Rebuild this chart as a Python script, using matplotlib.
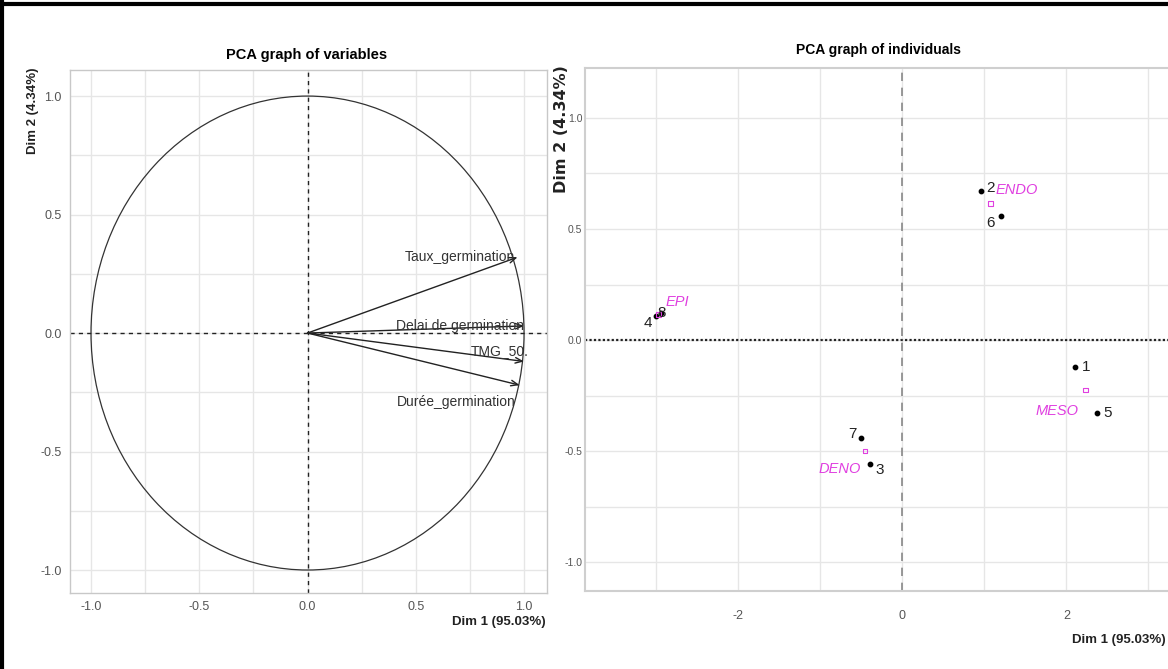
import numpy as np
import matplotlib.pyplot as plt
from matplotlib.patches import Circle
from matplotlib.lines import Line2D

# ---- donnees : graphe des variables ----
var_names = ["Taux_germination", "Delai de germination", "TMG_50.", "Durée_germination"]
var_dim1 = [0.97, 1.00, 1.00, 0.98]
var_dim2 = [0.32, 0.03, -0.12, -0.22]

# ---- donnees : graphe des individus ----
ind_names = ["1", "2", "3", "4", "5", "6", "7", "8"]
ind_dim1 = [2.10, 0.96, -0.40, -3.00, 2.37, 1.20, -0.51, -2.94]
ind_dim2 = [-0.12, 0.67, -0.56, 0.11, -0.33, 0.56, -0.44, 0.12]

grp_names = ["ENDO", "EPI", "MESO", "DENO"]
grp_dim1 = [1.08, -2.97, 2.235, -0.455]
grp_dim2 = [0.615, 0.115, -0.225, -0.50]

xlab = "Dim 1 (95.03%)"
ylab = "Dim 2 (4.34%)"

W, H = 1168, 669
fig = plt.figure(figsize=(W / 100, H / 100), dpi=100)
narrow = ['Liberation Sans Narrow', 'Liberation Sans', 'DejaVu Sans']
arial = ['Liberation Sans', 'DejaVu Sans']
grid_c = '#e6e6e6'

# cadre noir autour de l'image
fig.add_artist(Line2D([0, 1], [1 - 4 / H, 1 - 4 / H], color='black', lw=3, transform=fig.transFigure))
fig.add_artist(Line2D([2 / W, 2 / W], [0, 1], color='black', lw=3, transform=fig.transFigure))

# ================= graphe des variables =================
ax1 = fig.add_axes([70 / W, 1 - 593 / H, (547 - 70) / W, (593 - 70) / H])
ax1.set_xlim(-1.097, 1.106)
ax1.set_ylim(-1.097, 1.11)
ticks = [-1.0, -0.5, 0.0, 0.5, 1.0]
ax1.set_xticks(ticks)
ax1.set_yticks(ticks)
ax1.set_xticks([-0.75, -0.25, 0.25, 0.75], minor=True)
ax1.set_yticks([-0.75, -0.25, 0.25, 0.75], minor=True)
ax1.set_xticklabels([f"{t:.1f}" for t in ticks], fontsize=9, color='#555555', family=arial)
ax1.set_yticklabels([f"{t:.1f}" for t in ticks], fontsize=9, color='#555555', family=arial)
ax1.grid(True, which='both', color=grid_c, lw=1)
ax1.set_axisbelow(True)
ax1.tick_params(which='both', length=0, pad=6)
for s in ax1.spines.values():
    s.set_color('#c8c8c8')
    s.set_linewidth(1)

ax1.add_patch(Circle((0, 0), 1, fill=False, color='#333333', lw=0.9))
ax1.axhline(0, color='#222222', ls=(0, (3, 3)), lw=1)
ax1.axvline(0, color='#222222', ls=(0, (3, 3)), lw=1)

lab_off = {"Taux_germination": (-0.01, 0.0, 'center'),
           "Delai de germination": (0.0, 0.0, 'center'),
           "TMG_50.": (0.02, 0.045, 'center'),
           "Durée_germination": (-0.02, -0.07, 'center')}
for name, x, y in zip(var_names, var_dim1, var_dim2):
    ax1.annotate("", xy=(x, y), xytext=(0, 0),
                 arrowprops=dict(arrowstyle='->,head_length=0.5,head_width=0.2',
                                 color='#222222', lw=1, shrinkA=0, shrinkB=0))
    dx, dy, va = lab_off[name]
    ax1.text(x + dx, y + dy, name, ha='right', va=va, fontsize=10,
             color='#333333', family=arial)

fig.text(307 / W, 1 - 55 / H, "PCA graph of variables", ha='center', va='center',
         fontsize=10.5, fontweight='bold', family=arial)
fig.text(33 / W, 1 - 68 / H, ylab, rotation=90, ha='center', va='top',
         fontsize=9.5, fontweight='bold', family=arial, color='#222222')
fig.text(546 / W, 1 - 622 / H, xlab, ha='right', va='center',
         fontsize=9.5, fontweight='bold', family=arial, color='#222222')

# ================= graphe des individus =================
ax2 = fig.add_axes([585 / W, 1 - 591 / H, (W - 585) / W, (591 - 68) / H])
ax2.set_xlim(-3.87, 3.24)
ax2.set_ylim(-1.13, 1.225)
ax2.set_xticks([-2, 0, 2])
ax2.set_xticks([-3, -1, 1, 3], minor=True)
ax2.set_yticks(ticks)
ax2.set_yticks([-0.75, -0.25, 0.25, 0.75], minor=True)
ax2.set_xticklabels(["-2", "0", "2"], fontsize=9, color='#555555', family=narrow)
ax2.set_yticklabels([f"{t:.1f}" for t in ticks], fontsize=7.5, color='#555555', family=narrow)
ax2.grid(True, which='both', color=grid_c, lw=1)
ax2.set_axisbelow(True)
ax2.tick_params(which='both', length=0)
ax2.tick_params(axis='x', pad=14)
ax2.tick_params(axis='y', pad=2)
for s in ax2.spines.values():
    s.set_color('#cfcfcf')
    s.set_linewidth(1.5)
ax2.spines['right'].set_visible(False)

ax2.axhline(0, color='#222222', ls=(0, (1, 1)), lw=1.6)
ax2.axvline(0, color='#888888', ls=(0, (5, 4)), lw=1.2)

ax2.scatter(ind_dim1, ind_dim2, s=10, color='black', zorder=3)
ax2.scatter(grp_dim1, grp_dim2, s=12, marker='s', facecolor='none',
            edgecolor='#e040e0', lw=0.8, zorder=3)

ind_off = {"1": (5, 0, 'left', 'center'), "2": (4, 2, 'left', 'center'),
           "3": (4, -4, 'left', 'center'), "4": (-3, -5, 'right', 'center'),
           "5": (5, 0, 'left', 'center'), "6": (-4, -5, 'right', 'center'),
           "7": (-3, 3, 'right', 'center'), "8": (0, 0, 'center', 'center')}
for name, x, y in zip(ind_names, ind_dim1, ind_dim2):
    dx, dy, ha, va = ind_off[name]
    ax2.annotate(name, (x, y), xytext=(dx, dy), textcoords='offset points',
                 ha=ha, va=va, fontsize=11, color='#222222', family=narrow)

grp_off = {"ENDO": (3, 10, 'left'), "EPI": (5, 9, 'left'),
           "MESO": (-5, -15, 'right'), "DENO": (-3, -13, 'right')}
for name, x, y in zip(grp_names, grp_dim1, grp_dim2):
    dx, dy, ha = grp_off[name]
    ax2.annotate(name, (x, y), xytext=(dx, dy), textcoords='offset points',
                 ha=ha, va='center', fontsize=10.5, color='#e040e0',
                 style='italic', family=narrow)

fig.text(878 / W, 1 - 50 / H, "PCA graph of individuals", ha='center', va='center',
         fontsize=10, fontweight='bold', family=narrow)
fig.text(562 / W, 1 - 65 / H, ylab, rotation=90, ha='center', va='top',
         fontsize=11.5, fontweight='bold', family=['DejaVu Sans'], color='#222222')
fig.text(1166 / W, 1 - 640 / H, xlab, ha='right', va='center',
         fontsize=9.5, fontweight='bold', family=narrow, color='#222222')

fig.savefig('out.png', dpi=100)
